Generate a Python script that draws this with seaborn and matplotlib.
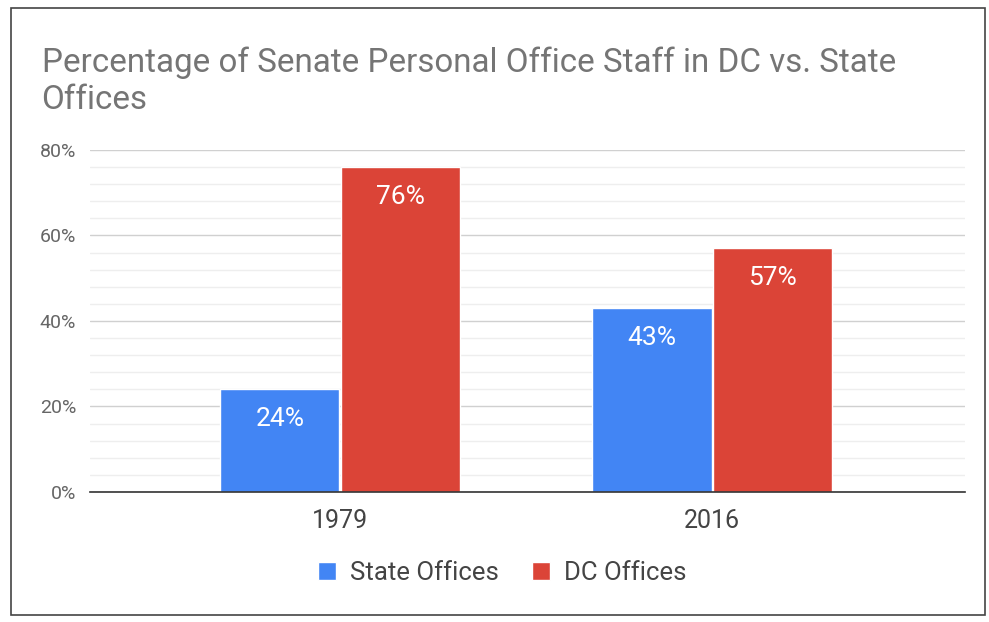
import pandas as pd
import matplotlib.pyplot as plt
import seaborn as sns
from matplotlib.patches import Rectangle
from matplotlib.ticker import MultipleLocator

years = ['1979', '2016']
state_offices = [24, 43]
dc_offices = [76, 57]
series_names = ['State Offices', 'DC Offices']
colors = ['#4285f4', '#db4437']

df = pd.DataFrame({
    'year': years * 2,
    'office': [series_names[0]] * 2 + [series_names[1]] * 2,
    'pct': state_offices + dc_offices,
})

sns.set_style('white')
plt.rcParams['font.family'] = ['Roboto', 'DejaVu Sans']

fig = plt.figure(figsize=(9.89, 6.22), dpi=100)
ax = fig.add_axes([0.091, 0.209, 0.885, 0.550])

sns.barplot(data=df, x='year', y='pct', hue='office', palette=colors,
            width=0.648, gap=0.01, saturation=1, ax=ax, legend=True)

ax.set_xlim(-0.672, 1.68)
ax.set_ylim(0, 80)
ax.yaxis.set_major_locator(MultipleLocator(20))
ax.yaxis.set_minor_locator(MultipleLocator(4))
ax.set_yticks([0, 20, 40, 60, 80])
ax.set_yticklabels([f'{v}%' for v in [0, 20, 40, 60, 80]], color='#666666', fontsize=14)
ax.tick_params(axis='x', labelsize=18, colors='#444444', length=0, pad=12)
ax.tick_params(axis='y', length=0, pad=10)
ax.grid(axis='y', which='major', color='#d0d0d0', linewidth=1)
ax.grid(axis='y', which='minor', color='#eeeeee', linewidth=1)
ax.set_axisbelow(True)
for s in ['top', 'right', 'left']:
    ax.spines[s].set_visible(False)
ax.spines['bottom'].set_color('#333333')
ax.spines['bottom'].set_linewidth(1.2)
ax.set_xlabel('')
ax.set_ylabel('')

# value labels inside the bars
for cont in ax.containers:
    ax.bar_label(cont, labels=[f'{int(v)}%' for v in cont.datavalues],
                 label_type='edge', padding=-30, color='white', fontsize=19)

handles, labels = ax.get_legend_handles_labels()
ax.legend(handles, labels, loc='upper center', bbox_to_anchor=(0.471, -0.135),
          ncol=2, frameon=False, fontsize=18.5, labelcolor='#444444',
          handlelength=0.7, handleheight=0.7, columnspacing=1.3, handletextpad=0.55)

fig.text(0.042, 0.885, 'Percentage of Senate Personal Office Staff in DC vs. State',
         fontsize=23.9, color='#757575')
fig.text(0.042, 0.825, 'Offices', fontsize=23.9, color='#757575')

# frame around the chart
fig.patches.append(Rectangle((0.011, 0.012), 0.985, 0.975, transform=fig.transFigure,
                             fill=False, edgecolor='#444444', linewidth=1.2))

fig.savefig('out.png', dpi=100)
